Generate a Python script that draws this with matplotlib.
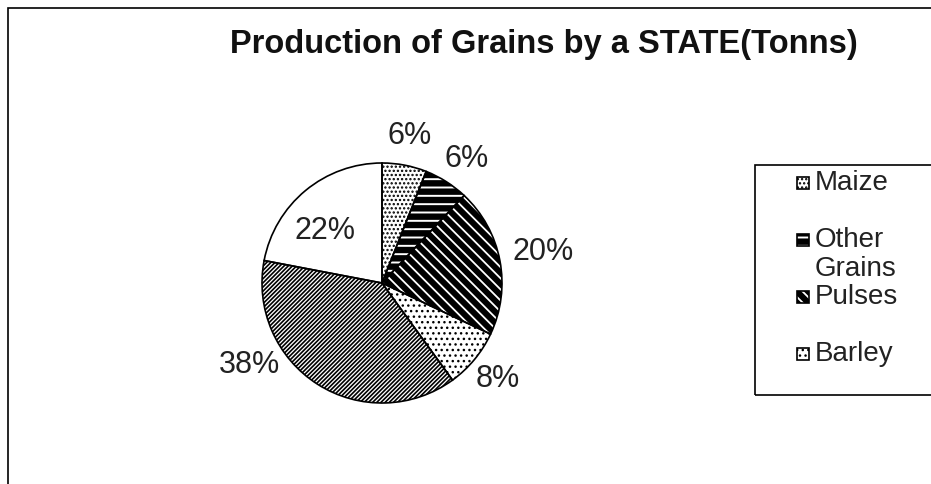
import numpy as np
import matplotlib
matplotlib.use('Agg')
import matplotlib.pyplot as plt
from matplotlib.patches import Rectangle

plt.rcParams['font.family'] = ['Liberation Sans', 'DejaVu Sans']
plt.rcParams['hatch.linewidth'] = 1.4

# data (share of production, %)
grains = ['Maize', 'Other\nGrains', 'Pulses', 'Barley', 'Wheat', 'Rice']
shares = [6, 6, 20, 8, 38, 22]
pct_labels = ['6%', '6%', '20%', '8%', '38%', '22%']

# styles per slice: face colour, hatch, hatch colour, hatch width
faces = ['white', 'black', 'black', 'white', 'white', 'white']
hatches = ['....', '--', '\\\\\\', '...', '////////', '']
hatch_cols = ['black', 'white', 'white', 'black', 'black', 'black']
hatch_lw = [1.1, 1.4, 1.3, 1.0, 1.2, 1.0]
# label placement (radius, angle shift in degrees)
lab_r = [1.25, 1.25, 1.37, 1.25, 1.3, 0.64]
lab_shift = [0, -2, 0, 0, -26, 8]

W, H = 931, 484
fig = plt.figure(figsize=(W / 100, H / 100), dpi=100)

# outer frame of the chart area
fig.add_artist(Rectangle((8 / W, -0.1), 1.2, 1 - 8 / H + 0.1, transform=fig.transFigure,
                         fill=False, edgecolor='black', linewidth=1.2))

cx, cy, r = 382, 283, 120
ax = fig.add_axes([(cx - r) / W, (H - cy - r) / H, 2 * r / W, 2 * r / H])


def style(p, fc, h, hc, lw):
    p.set_facecolor(fc)
    p.set_edgecolor(hc)
    p.set_hatch(h)
    if hasattr(p, 'set_hatch_linewidth'):
        p.set_hatch_linewidth(lw)


wedges, _ = ax.pie(shares, startangle=90, counterclock=False, radius=1,
                   wedgeprops=dict(linewidth=0))
for w, fc, h, hc, lw in zip(wedges, faces, hatches, hatch_cols, hatch_lw):
    style(w, fc, h, hc, lw)
# outlines on top
ax.pie(shares, startangle=90, counterclock=False, radius=1,
       wedgeprops=dict(fill=False, edgecolor='black', linewidth=1.2))

for w, lab, rr, sh in zip(wedges, pct_labels, lab_r, lab_shift):
    mid = np.deg2rad((w.theta1 + w.theta2) / 2 + sh)
    ax.text(rr * np.cos(mid), rr * np.sin(mid), lab, ha='center', va='center',
            fontsize=22, color='#222222')
ax.set_xlim(-1, 1)
ax.set_ylim(-1, 1)
ax.set_aspect('equal')
ax.axis('off')

fig.text(544 / W, 1 - 45 / H, 'Production of Grains by a STATE(Tonns)',
         ha='center', va='center', fontsize=23.5, fontweight='bold', color='#111111')

# legend box (runs off the right edge, as in the original)
fig.add_artist(Rectangle((755 / W, 1 - 395 / H), 0.3, 230 / H, transform=fig.transFigure,
                         fill=False, edgecolor='black', linewidth=1.2))
step = 57
for i in range(4):
    yc = 183 + i * step
    sq = Rectangle((797 / W, 1 - (yc + 6) / H), 12 / W, 12 / H, transform=fig.transFigure,
                   linewidth=0)
    style(sq, faces[i], hatches[i], hatch_cols[i], hatch_lw[i])
    fig.add_artist(sq)
    fig.add_artist(Rectangle((797 / W, 1 - (yc + 6) / H), 12 / W, 12 / H,
                             transform=fig.transFigure, fill=False,
                             edgecolor='black', linewidth=1.2))
    fig.text(815 / W, 1 - (yc - 13) / H, grains[i], ha='left', va='top',
             fontsize=20, color='#222222', linespacing=1.15)

fig.savefig('out.png', dpi=100, facecolor='white')
